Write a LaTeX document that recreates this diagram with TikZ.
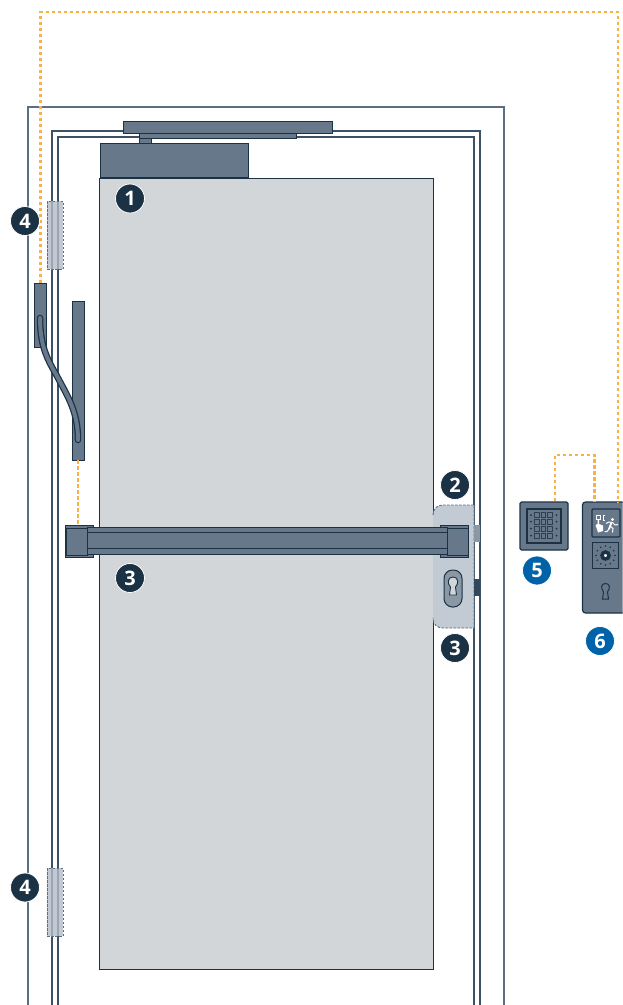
\documentclass[tikz,border=0pt]{standalone}
\usepackage{fontspec}
\setmainfont{Open Sans}
\definecolor{navy}{HTML}{1B3245}
\definecolor{slate}{HTML}{67788A}
\definecolor{framegray}{HTML}{5C6F82}
\definecolor{doorgray}{HTML}{D2D6D9}
\definecolor{plategray}{HTML}{C2CAD4}
\definecolor{lockgray}{HTML}{8A98A6}
\definecolor{wireorange}{HTML}{F9B044}
\definecolor{badgeblue}{HTML}{0062A8}
\usetikzlibrary{positioning}

\begin{document}
\begin{tikzpicture}[
  x=1pt, y=-1pt,
  part/.style={draw=navy, fill=slate, line width=1pt, inner sep=0pt, outer sep=0pt},
  frameline/.style={draw=navy!50!framegray, line width=1.2pt},
  hinge/.style={draw=framegray, fill=plategray!85!framegray, fill opacity=.8, dash pattern=on 2.5pt off 1.5pt, line width=.9pt, inner sep=0pt},
  wire/.style={draw=wireorange, line width=2.1pt, dash pattern=on 3.5pt off 2.5pt},
  badge/.style={circle, draw=white, line width=.8pt, fill=navy, text=white, font=\bfseries\fontsize{20}{20}\selectfont, minimum size=29pt, inner sep=0pt},
  bluebadge/.style={badge, fill=badgeblue},
  panel/.style={draw=navy, line width=1.2pt, fill=slate, rounded corners=1.5pt}
]
\useasboundingbox (0,0) rectangle (622,1005);

% door and frame
\node[draw=navy, fill=doorgray, line width=1pt, minimum width=334pt, minimum height=791pt, inner sep=0pt] (door) at (266,573.5) {};
\draw[draw=framegray, line width=1.3pt] (28,1005) -- (28,107) -- (504,107) -- (504,1005);
\draw[frameline] (52,1005) -- (52,131) -- (480,131) -- (480,1005);
\draw[frameline] (58,1005) -- (58,137) -- (474,137) -- (474,1005);

% hinges
\node[hinge, minimum width=16pt, minimum height=68pt] (hingetop) at (55,235) {};
\node[hinge, minimum width=16pt, minimum height=68pt] (hingebottom) at (55,902) {};

% closer
\node[part, minimum width=12pt, minimum height=10pt] (arm) at (145,138) {};
\node[part, minimum width=157pt, minimum height=5pt] (armrail) at (217.5,135.5) {};
\node[part, minimum width=209pt, minimum height=12pt] (rail) at (227.5,127) {};
\node[part, minimum width=148pt, minimum height=34pt] (closer) at (174,160) {};

% cable transfer
\node[part, minimum width=12pt, minimum height=64pt] (mount) at (40,315) {};
\node[part, minimum width=12pt, minimum height=159pt] (cablebar) at (78,380.5) {};
\draw[navy, line width=6.5pt, line cap=round] (40,318) .. controls (40,350) and (50,363) .. (58,378) .. controls (68,397) and (78,412) .. (78,440);
\draw[slate, line width=4pt, line cap=round] (40,318) .. controls (40,350) and (50,363) .. (58,378) .. controls (68,397) and (78,412) .. (78,440);

% side plate
\fill[plategray] (474,505) -- (443,505) .. controls (437,505) and (433,509) .. (433,515) -- (433,618) .. controls (433,624) and (437,628) .. (443,628) -- (474,628) -- cycle;
\draw[framegray, line width=.9pt, dash pattern=on 2.5pt off 1.5pt] (433,515) .. controls (433,509) and (437,505) .. (443,505) -- (474,505) -- (474,628) -- (443,628) .. controls (437,628) and (433,624) .. (433,618);
\node[fill=lockgray, inner sep=0pt, minimum width=6pt, minimum height=17pt] (latch) at (477,533.5) {};
\node[fill=navy!70!slate, inner sep=0pt, minimum width=6pt, minimum height=17pt] (bolt) at (477,587.5) {};
\node[draw=navy, fill=lockgray, line width=1pt, rounded corners=8.5pt, minimum width=18pt, minimum height=37pt, inner sep=0pt] (lock) at (453,588.5) {};
\draw[draw=navy, fill=doorgray, line width=.9pt] (450.5,587) .. controls (447,583.5) and (447.5,577) .. (453,577) .. controls (458.5,577) and (459,583.5) .. (455.5,587) -- (456.5,595) -- (449.5,595) -- cycle;

% panic bar
\node[part, minimum width=28pt, minimum height=32pt] (barleft) at (79,541) {};
\node[part, minimum width=28pt, minimum height=32pt] (barright) at (454,541) {};
\node[part, minimum width=360pt, minimum height=27pt] (bar) at (267,541) {};
\node[part, minimum width=21pt, minimum height=27pt] (capleft) at (76.5,541.5) {};
\node[part, minimum width=21pt, minimum height=27pt] (capright) at (457.5,541.5) {};
\draw[navy, line width=1pt] (87,532.5) -- (447,532.5) (87,548.5) -- (447,548.5);

% keypad
\node[panel, minimum width=48pt, minimum height=48pt, inner sep=0pt] (keypad) at (544,526) {};
\node[draw=navy, line width=1.1pt, minimum width=34pt, minimum height=34pt, inner sep=0pt] (keyfield) at (544,526) {};
\foreach \ky in {515,521.7,528.7,535.7} {
  \foreach \kx in {537,543.5,550}
    \draw[navy!80!slate, line width=.7pt, fill=slate] (\kx-2.3,\ky-2.3) rectangle (\kx+2.3,\ky+2.3);
  \fill[navy] (531,\ky) circle (1pt);
  \fill[navy] (556.5,\ky) circle (1pt);
}

% exit terminal
\draw[panel, rounded corners=3pt] (622.5,502) -- (582.5,502) -- (582.5,613) -- (622.5,613);
\coordinate (terminal) at (594.5,502);
\coordinate (terminalb) at (618,502);
\node[draw=navy, fill=slate, line width=1.1pt, rounded corners=1pt, minimum width=28pt, minimum height=28pt, inner sep=0pt] (exitpanel) at (606,523) {};
% hand and runner
\fill[white] (595.5,525) -- (597.5,524) -- (597.5,520) -- (599,520) -- (599,524) -- (603,525.5) -- (603,531) -- (598,532.5) -- cycle;
\draw[white, line width=.7pt] (596.5,515.5) rectangle (600.5,519);
\draw[white, line width=.8pt] (603.5,515.5) -- (603.5,520) (602.5,515.5) -- (604.5,515.5) (602.5,520) -- (604.5,520);
\fill[white] (612.5,519.5) circle (1.6pt);
\draw[white, line width=1.8pt] (611.5,522.5) -- (609,529);
\draw[white, line width=1pt] (606,523.5) -- (609,522) -- (612.5,522.5) -- (615,525) -- (618,524.5);
\draw[white, line width=1pt] (610,526) -- (613,528.5) -- (612.5,532.5) (609,529) -- (607,531.5) -- (604.5,531.5);
\node[draw=navy, line width=1.1pt, fill=slate, minimum width=26pt, minimum height=26pt, inner sep=0pt] (reader) at (605.5,555.5) {};
\foreach \ang in {0,30,...,330}
  \fill[navy] (605.5,555.5) ++(\ang:9.5) circle (.8pt);
\node[circle, draw=navy, line width=3.5pt, fill=white, minimum size=7pt, inner sep=0pt] (readerlens) at (605.5,555.5) {};
\draw[navy, line width=1pt] (603.5,592) .. controls (600.5,588) and (601,583.5) .. (605.5,583.5) .. controls (610,583.5) and (610.5,588) .. (607.5,592) -- (608.5,599) -- (602.5,599) -- cycle;

% wiring
\coordinate (wirea) at (40.5,12);
\coordinate (wireb) at (618,12);
\coordinate (wirec) at (555,455);
\coordinate (wired) at (594.5,455);
\draw[wire] (mount.north -| wirea) -- (wirea) -- (wireb) -- (terminalb);
\draw[wire] (keypad.north -| wirec) -- (wirec) -- (wired) -- (terminal);
\draw[wire] (cablebar.south) -- (cablebar.south |- barleft.north);

% labels
\node[badge] (labelone) at (130,198.5) {1};
\node[badge] (labelfourtop) at (25,221) {4};
\node[badge] (labelfourbottom) at (25,887.5) {4};
\node[badge] (labeltwo) at (455,485) {2};
\node[badge] (labelthreebar) at (130,578) {3};
\node[badge] (labelthreelock) at (455,648) {3};
\node[bluebadge] (labelfive) at (537,570.5) {5};
\node[bluebadge] (labelsix) at (600,641) {6};
\end{tikzpicture}
\end{document}
